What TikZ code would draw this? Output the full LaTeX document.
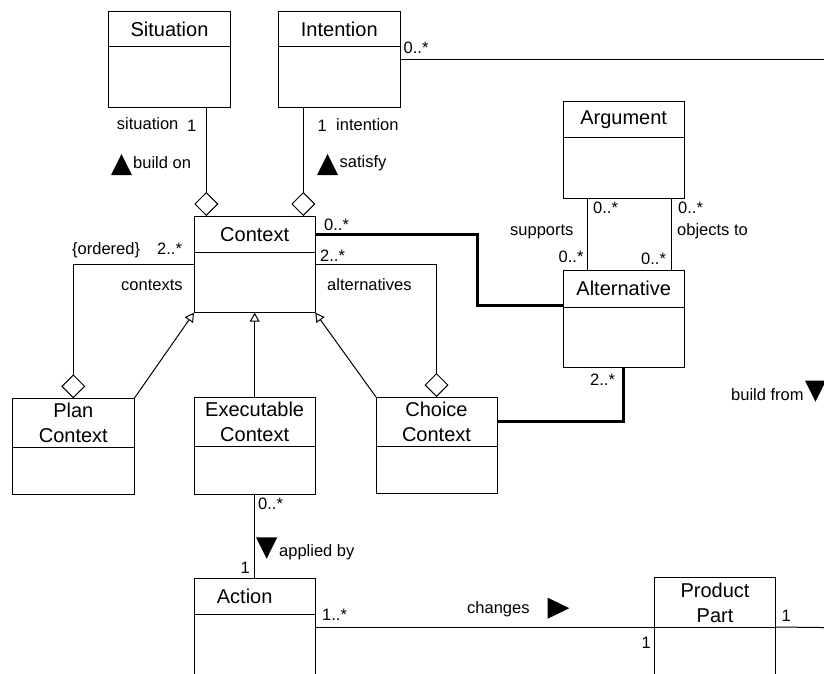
\documentclass[tikz,border=0pt]{standalone}
\usepackage{fontspec}
\setmainfont{Liberation Sans}
\usetikzlibrary{arrows.meta,fit,calc}
\newcommand{\umlclass}[7]{%
  \path (#2,#3) coordinate (#1-nw) (#4,#5) coordinate (#1-se) (#4,#6) coordinate (#1-dv);
  \node[classbox, fit=(#1-nw)(#1-se)] (#1) {};
  \node[hdrbox, fit=(#1-nw)(#1-dv)] (#1-h) {};
  \node[hdrtext] (#1-t) at (#1-h) {#7};
  \draw[boxline] (#1-h.south west) -- (#1-h.south east);
}
\begin{document}
\begin{tikzpicture}[x=1pt,y=-1pt,
  classbox/.style={draw, line width=1pt, inner sep=0pt, outer sep=0pt},
  boxline/.style={line width=1pt},
  hdrbox/.style={inner sep=0pt, outer sep=0pt},
  hdrtext/.style={font=\fontsize{20}{25}\selectfont, align=center, inner sep=0pt},
  lbl/.style={font=\fontsize{16.5}{19}\selectfont, inner sep=0pt, anchor=base west},
  assoc/.style={line width=1pt},
  strong/.style={line width=3pt},
  aggr/.style={line width=1pt, -{Diamond[open,length=24pt,width=24pt,line width=1pt]}},
  gen/.style={line width=1pt, -{Triangle[open,length=9pt,width=10pt,line width=1pt]}},
  navtri/.style={fill=black},
]
\useasboundingbox (0,0) rectangle (824,673);
\clip (0,0) rectangle (824,673);

% classes
\umlclass{sit}{108.7}{11}{230.3}{107.7}{46.7}{Situation}
\umlclass{int}{278.3}{11}{400.3}{107.7}{46.7}{Intention}
\umlclass{ctx}{194}{216}{315.3}{312.7}{252.3}{Context}
\umlclass{arg}{563}{101.7}{684.3}{198.3}{137.3}{Argument}
\umlclass{alt}{563}{270.3}{684.3}{367}{307}{Alternative}
\umlclass{plan}{12.3}{398.3}{134.3}{494.7}{447.3}{Plan\\Context}
\umlclass{exe}{194}{397}{315.3}{494}{446}{Executable\\Context}
\umlclass{cho}{376}{397}{497}{493.7}{446}{Choice\\Context}
\umlclass{act}{194}{578.3}{315.3}{690}{614.3}{}
\node[hdrtext] (act-tx) at ([xshift=-10pt]act-h) {Action};
\umlclass{pp}{654.3}{577.7}{775.7}{690}{627}{Product\\Part}

% helper coordinates
\coordinate (sitA) at ([xshift=12.3pt]ctx.north west);
\coordinate (intA) at ([xshift=-12pt]ctx.north east);
\coordinate (argL) at ([xshift=24pt]alt.north west);
\coordinate (argR) at ([xshift=-12.6pt]alt.north east);
\coordinate (intEnd) at (840,59.35);
\coordinate (ppEnd) at (840,627.7);

% connectors
\draw[aggr] (sitA |- sit.south) -- (sitA);
\draw[aggr] (intA |- int.south) -- (intA);
\draw[aggr] (ctx.west) -| (plan.north);
\draw[aggr] (ctx.east) -| (cho.north);
\draw[gen] (plan.north east) -- (ctx.south west);
\draw[gen] (exe.north) -- (ctx.south);
\draw[gen] (cho.north west) -- (ctx.south east);
\draw[assoc] (int.east) -- (intEnd);
\draw[strong] (ctx-h.east) -- ++(162.4,0) |- ([yshift=1.3pt]alt-h.south west);
\draw[strong] (cho-h.east) -| (alt.south);
\draw[assoc] (argL |- arg.south) -- (argL);
\draw[assoc] (argR |- arg.south) -- (argR);
\draw[assoc] (exe.south) -- (act.north);
\draw[assoc] (act.east |- pp-h.south west) -- (pp-h.south west);
\draw[assoc] (pp-h.south east) -- (ppEnd);

% navigation triangles
\fill[navtri] (111,175) -- (132,175) -- (121.5,154) -- cycle;
\fill[navtri] (317,175) -- (338,175) -- (327.5,154) -- cycle;
\fill[navtri] (256,537.3) -- (277.3,537.3) -- (266.65,558.7) -- cycle;
\fill[navtri] (805,380.7) -- (826,380.7) -- (815.5,401.7) -- cycle;
\fill[navtri] (547.7,597.7) -- (547.7,618.7) -- (569.3,608.2) -- cycle;

% labels
\node[lbl] (l1) at (116.7,129) {situation};
\node[lbl] (l2) at (187,131) {1};
\node[lbl] (l3) at (133,168.3) {build on};
\node[lbl] (l4) at (317.5,131.7) {1};
\node[lbl] (l5) at (336,130) {intention};
\node[lbl] (l6) at (339.5,167) {satisfy};
\node[lbl] (l7) at (403.5,53.3) {0..*};
\node[lbl] (l8) at (324,230) {0..*};
\node[lbl] (l9) at (72,254) {\{ordered\}};
\node[lbl] (l10) at (157,254) {2..*};
\node[lbl] (l11) at (320,261) {2..*};
\node[lbl] (l12) at (121,290.7) {contexts};
\node[lbl] (l13) at (327,290.7) {alternatives};
\node[lbl] (l14) at (593,213.3) {0..*};
\node[lbl] (l15) at (510,235) {supports};
\node[lbl] (l16) at (558.5,262.3) {0..*};
\node[lbl] (l17) at (678,213.3) {0..*};
\node[lbl] (l18) at (677,235) {objects to};
\node[lbl] (l19) at (641,264) {0..*};
\node[lbl] (l20) at (590,385) {2..*};
\node[lbl] (l21) at (731,400) {build from};
\node[lbl] (l22) at (258,509.3) {0..*};
\node[lbl] (l23) at (279,556) {applied by};
\node[lbl] (l24) at (240.5,573.3) {1};
\node[lbl] (l25) at (322,620.7) {1..*};
\node[lbl] (l26) at (467,613.3) {changes};
\node[lbl] (l27) at (641.5,648.3) {1};
\node[lbl] (l28) at (781.5,621) {1};
\end{tikzpicture}
\end{document}
